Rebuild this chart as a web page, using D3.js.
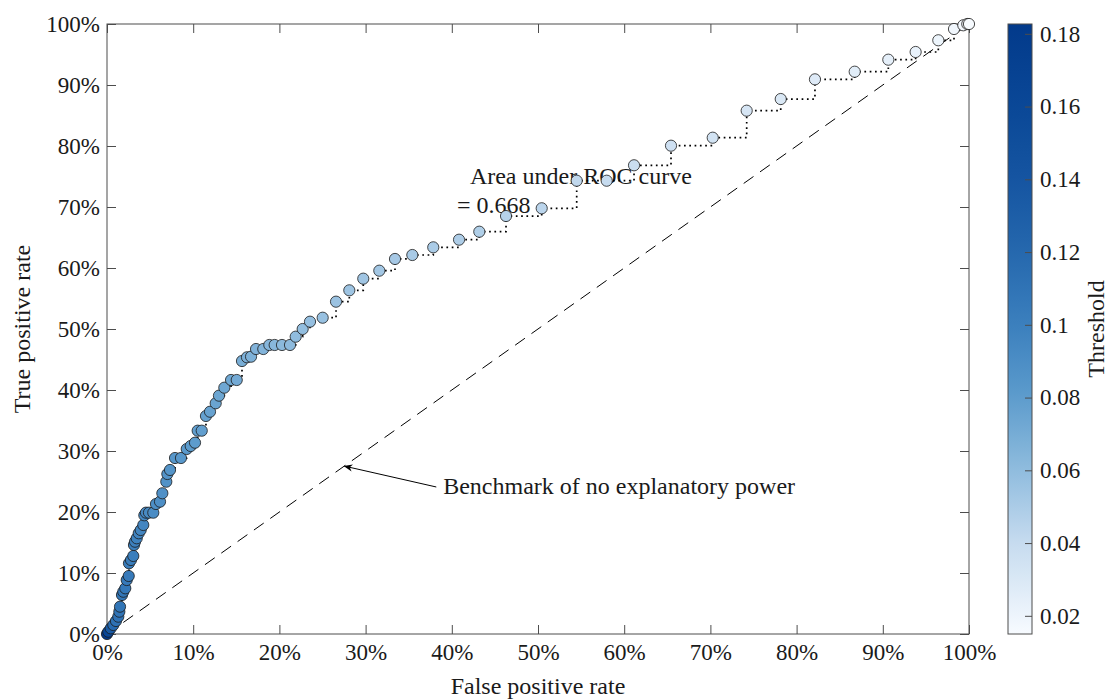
<!DOCTYPE html>
<html lang="en">
<meta charset="utf-8">
<style>
body {
  margin: 0;
  background: #fff;
  font-family: 'Liberation Serif', 'DejaVu Serif', serif;
}
.axis text {
  font-family: 'Liberation Serif', serif;
  font-size: 23px;
  fill: #1a1a1a;
}
.axis .domain {
  display: none;
}
.axis line {
  stroke: #4d4d4d;
}
.label {
  font-size: 24px;
  fill: #1a1a1a;
}
</style>
<body>
<div id="chart"></div>

<script src="https://d3js.org/d3.v7.min.js"></script>
<script>

// ROC points (false positive rate, true positive rate)
var fpr = [0.000, 0.0015, 0.0043, 0.0073, 0.0104, 0.0131, 0.0143, 0.0151, 0.0174, 0.0189,
           0.0212, 0.0229, 0.0252, 0.0255, 0.0278, 0.0305, 0.0313, 0.0325, 0.0345, 0.0368,
           0.0391, 0.0421, 0.0433, 0.0452, 0.0487, 0.0537, 0.0568, 0.0615, 0.0642, 0.0688,
           0.0700, 0.0731, 0.0789, 0.0858, 0.0925, 0.0971, 0.1021, 0.1052, 0.1099, 0.1148,
           0.1195, 0.1261, 0.1299, 0.1361, 0.1439, 0.1505, 0.1566, 0.1624, 0.1671, 0.1729,
           0.1813, 0.1883, 0.1945, 0.2030, 0.2123, 0.2189, 0.2270, 0.2355, 0.2502, 0.2657,
           0.2811, 0.2973, 0.3159, 0.3341, 0.3542, 0.3785, 0.4084, 0.4319, 0.4629, 0.5043,
           0.5449, 0.5797, 0.6114, 0.6543, 0.7027, 0.7421, 0.7816, 0.8213, 0.8674, 0.9064,
           0.9381, 0.9644, 0.9826, 0.9934, 0.9980, 1.000];

var tpr = [0.000, 0.0038, 0.0093, 0.0148, 0.0213, 0.0284, 0.0366, 0.0448, 0.0639, 0.0693,
           0.0749, 0.0885, 0.0951, 0.1159, 0.1213, 0.1279, 0.1459, 0.1513, 0.1569, 0.1651,
           0.1705, 0.1787, 0.1946, 0.1989, 0.1989, 0.1989, 0.2131, 0.2169, 0.2307, 0.2497,
           0.2623, 0.2689, 0.2885, 0.2885, 0.3033, 0.3082, 0.3136, 0.3333, 0.3333, 0.3574,
           0.3644, 0.3782, 0.3907, 0.4038, 0.4164, 0.4164, 0.4475, 0.4536, 0.4546, 0.4672,
           0.4672, 0.4738, 0.4738, 0.4738, 0.4738, 0.4874, 0.5000, 0.5120, 0.5185, 0.5448,
           0.5634, 0.5825, 0.5956, 0.6148, 0.6213, 0.6339, 0.6464, 0.6595, 0.6852, 0.6979,
           0.7431, 0.7431, 0.7684, 0.8005, 0.8136, 0.8579, 0.8770, 0.9093, 0.9218, 0.9415,
           0.9541, 0.9733, 0.9918, 0.9979, 1.000, 1.000];

// classification threshold at each point
var threshold = [0.182, 0.160, 0.135, 0.118, 0.112, 0.111, 0.110, 0.109, 0.108, 0.107,
                 0.106, 0.105, 0.104, 0.103, 0.102, 0.101, 0.100, 0.099, 0.098, 0.097,
                 0.096, 0.095, 0.094, 0.093, 0.092, 0.091, 0.090, 0.089, 0.088, 0.087,
                 0.086, 0.085, 0.084, 0.083, 0.082, 0.081, 0.080, 0.079, 0.078, 0.077,
                 0.076, 0.075, 0.074, 0.073, 0.072, 0.071, 0.069, 0.068, 0.067, 0.066,
                 0.065, 0.064, 0.063, 0.062, 0.061, 0.060, 0.059, 0.058, 0.057, 0.056,
                 0.055, 0.054, 0.053, 0.052, 0.051, 0.050, 0.049, 0.048, 0.046, 0.044,
                 0.042, 0.040, 0.038, 0.036, 0.034, 0.032, 0.030, 0.028, 0.026, 0.024,
                 0.022, 0.020, 0.018, 0.017, 0.016, 0.015];

var xTicks = [0, 0.1, 0.2, 0.3, 0.4, 0.5, 0.6, 0.7, 0.8, 0.9, 1];
var yTicks = [0, 0.1, 0.2, 0.3, 0.4, 0.5, 0.6, 0.7, 0.8, 0.9, 1];
var cbTicks = [0.02, 0.04, 0.06, 0.08, 0.1, 0.12, 0.14, 0.16, 0.18];
var cbDomain = [0.015, 0.1827];
var auc = 0.668;

var width = 1112,
    height = 700;

var margin = {left: 107, right: 143, top: 24, bottom: 66};
var plotW = width - margin.left - margin.right,
    plotH = height - margin.top - margin.bottom;

var svg = d3.select("#chart").append("svg")
    .attr("width", width)
    .attr("height", height);

var x = d3.scaleLinear().domain([0, 1]).range([margin.left, margin.left + plotW]);
var y = d3.scaleLinear().domain([0, 1]).range([margin.top + plotH, margin.top]);

// white -> blue colormap
var color = d3.scaleLinear()
    .domain([0.015, 0.04, 0.06, 0.08, 0.10, 0.12, 0.14, 0.16, 0.1827])
    .range(["#f7fbff", "#c6dbef", "#90bcde", "#5d9ccd", "#3b7fbd", "#2568ae", "#1555a1", "#0a4797", "#023a8b"])
    .clamp(true);

var pts = fpr.map(function(d, i) { return {x: d, y: tpr[i], t: threshold[i]}; });

// axes, ticks pointing inward on all four sides
var pct = d3.format(".0%");
svg.append("g").attr("class", "axis")
    .attr("transform", "translate(0," + (margin.top + plotH) + ")")
    .call(d3.axisBottom(x).tickValues(xTicks).tickFormat(pct).tickSizeInner(-9).tickSizeOuter(0).tickPadding(10));
svg.append("g").attr("class", "axis")
    .attr("transform", "translate(0," + margin.top + ")")
    .call(d3.axisTop(x).tickValues(xTicks).tickFormat("").tickSizeInner(-9).tickSizeOuter(0));
svg.append("g").attr("class", "axis")
    .attr("transform", "translate(" + margin.left + ",0)")
    .call(d3.axisLeft(y).tickValues(yTicks).tickFormat(pct).tickSizeInner(-9).tickSizeOuter(0).tickPadding(7));
svg.append("g").attr("class", "axis")
    .attr("transform", "translate(" + (margin.left + plotW) + ",0)")
    .call(d3.axisRight(y).tickValues(yTicks).tickFormat("").tickSizeInner(-9).tickSizeOuter(0));

svg.append("rect")
    .attr("x", margin.left).attr("y", margin.top)
    .attr("width", plotW).attr("height", plotH)
    .attr("fill", "none").attr("stroke", "#4d4d4d").attr("stroke-width", 1);

// axis labels
svg.append("text").attr("class", "label")
    .attr("x", margin.left + plotW / 2).attr("y", 694)
    .attr("text-anchor", "middle")
    .text("False positive rate");
svg.append("text").attr("class", "label")
    .attr("transform", "translate(30," + (margin.top + plotH / 2) + ") rotate(-90)")
    .attr("text-anchor", "middle")
    .text("True positive rate");

// benchmark diagonal
svg.append("line")
    .attr("x1", x(0)).attr("y1", y(0)).attr("x2", x(1)).attr("y2", y(1))
    .attr("stroke", "#000").attr("stroke-width", 1)
    .attr("stroke-dasharray", "12,8");

// annotations
svg.append("text").attr("class", "label")
    .attr("x", x(0.421)).attr("y", y(0.738))
    .text("Area under ROC curve");
svg.append("text").attr("class", "label")
    .attr("x", x(0.406)).attr("y", y(0.690))
    .text("= " + auc.toFixed(3));

svg.append("defs").append("marker")
    .attr("id", "arrow")
    .attr("viewBox", "0 0 10 10")
    .attr("refX", 9).attr("refY", 5)
    .attr("markerWidth", 9).attr("markerHeight", 9)
    .attr("orient", "auto")
  .append("path")
    .attr("d", "M0,1 L10,5 L0,9 L3,5 Z")
    .attr("fill", "#000");

svg.append("line")
    .attr("x1", x(0.382)).attr("y1", y(0.241))
    .attr("x2", x(0.2755)).attr("y2", y(0.2752))
    .attr("stroke", "#000").attr("stroke-width", 1)
    .attr("marker-end", "url(#arrow)");
svg.append("text").attr("class", "label")
    .attr("x", x(0.390)).attr("y", y(0.230))
    .text("Benchmark of no explanatory power");

// dotted staircase ROC curve
var line = d3.line()
    .x(function(d) { return x(d.x); })
    .y(function(d) { return y(d.y); })
    .curve(d3.curveStepAfter);

svg.append("path")
    .datum(pts)
    .attr("d", line)
    .attr("fill", "none")
    .attr("stroke", "#000")
    .attr("stroke-width", 1.7)
    .attr("stroke-dasharray", "1.7,3.6");

// markers coloured by threshold
svg.append("g")
  .selectAll("circle")
    .data(pts)
  .enter().append("circle")
    .attr("cx", function(d) { return x(d.x); })
    .attr("cy", function(d) { return y(d.y); })
    .attr("r", 5.6)
    .attr("fill", function(d) { return color(d.t); })
    .attr("stroke", "#1a1a1a")
    .attr("stroke-width", 0.8);

// colorbar
var cbX = 1008, cbW = 24;
var cb = d3.scaleLinear().domain(cbDomain).range([margin.top + plotH, margin.top]);

var grad = svg.select("defs").append("linearGradient")
    .attr("id", "cbgrad")
    .attr("x1", 0).attr("y1", 1).attr("x2", 0).attr("y2", 0);
d3.range(0, 1.0001, 0.05).forEach(function(f) {
  var v = cbDomain[0] + f * (cbDomain[1] - cbDomain[0]);
  grad.append("stop").attr("offset", f).attr("stop-color", color(v));
});

svg.append("rect")
    .attr("x", cbX).attr("y", margin.top)
    .attr("width", cbW).attr("height", plotH)
    .attr("fill", "url(#cbgrad)")
    .attr("stroke", "#4d4d4d").attr("stroke-width", 1);

svg.append("g").attr("class", "axis")
    .attr("transform", "translate(" + (cbX + cbW) + ",0)")
    .call(d3.axisRight(cb).tickValues(cbTicks).tickFormat(d3.format("")).tickSizeInner(-7).tickSizeOuter(0).tickPadding(8));

svg.append("text").attr("class", "label")
    .attr("transform", "translate(1104," + (margin.top + plotH / 2) + ") rotate(-90)")
    .attr("text-anchor", "middle")
    .text("Threshold");

</script>
</body>
</html>
